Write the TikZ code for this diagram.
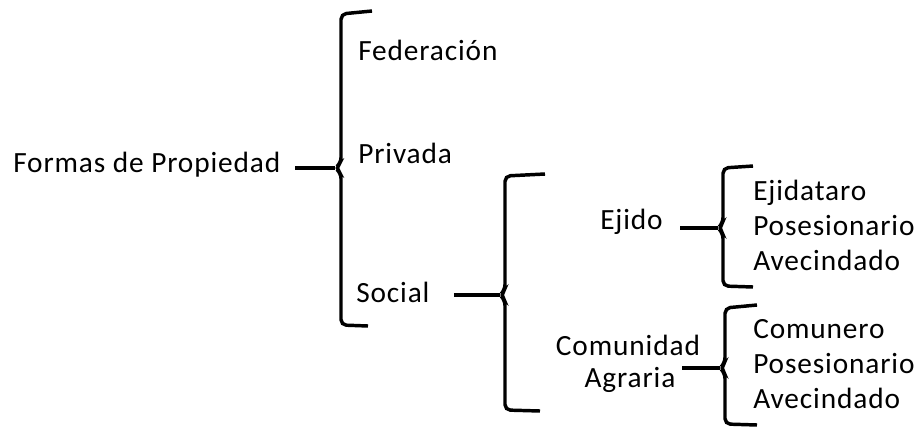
\documentclass[tikz,border=0pt]{standalone}
\usepackage{fontspec}
\setmainfont[LetterSpace=3]{Carlito}
\usepackage{tikz}

\begin{document}
\begin{tikzpicture}[x=0.75pt,y=-0.75pt,color=black,
  every node/.style={inner sep=0pt,font=\fontsize{22}{26.25}\selectfont},
  bracket/.style={line width=2.6pt,rounded corners=4pt},
  link/.style={line width=2.4pt}]
\useasboundingbox (0,0) rectangle (922,429);

% first level
\node(formas) [anchor=west] at (13,165) {Formas de Propiedad};
\coordinate(tipA) at (335,168);
\draw[bracket] (372,11) -- (341,14) -- (341,163) -- (tipA) -- (341,173) -- (341,325) -- (368,326);
\draw[link,shorten <=11pt] (formas.east |- tipA) -- (tipA);

\node(federacion) [anchor=west] at (358,50) {Federación};
\node(privada) [anchor=west] at (358,153) {Privada};
\node(social) [anchor=west] at (356,292) {Social};

% social
\coordinate(tipB) at (500,295);
\draw[bracket] (545,174) -- (505,176) -- (505,290) -- (tipB) -- (505,300) -- (505,410) -- (540,411);
\draw[link,shorten <=18pt] (social.east |- tipB) -- (tipB);

\node(ejido) [anchor=west] at (600,222) {Ejido};
\node(comunidad) at (628,345) {Comunidad};
\node(agraria) at (630,380) {Agraria};

% ejido
\coordinate(tipC) at (718,228);
\draw[bracket] (753,166) -- (723,168) -- (723,223) -- (tipC) -- (723,233) -- (723,286) -- (753,287);
\draw[link,shorten <=13pt] (ejido.east |- tipC) -- (tipC);
\node(ejidolist) [anchor=west,align=left] at (753,225) {Ejidataro\\Posesionario\\Avecindado};

% comunidad agraria
\coordinate(tipD) at (720,368);
\draw[bracket] (757,305) -- (725,308) -- (725,363) -- (tipD) -- (725,373) -- (725,424) -- (757,425);
\draw[link,shorten <=5pt] (agraria.east |- tipD) -- (tipD);
\node(comunidadlist) [anchor=west,align=left] at (753,364) {Comunero\\Posesionario\\Avecindado};
\end{tikzpicture}
\end{document}
